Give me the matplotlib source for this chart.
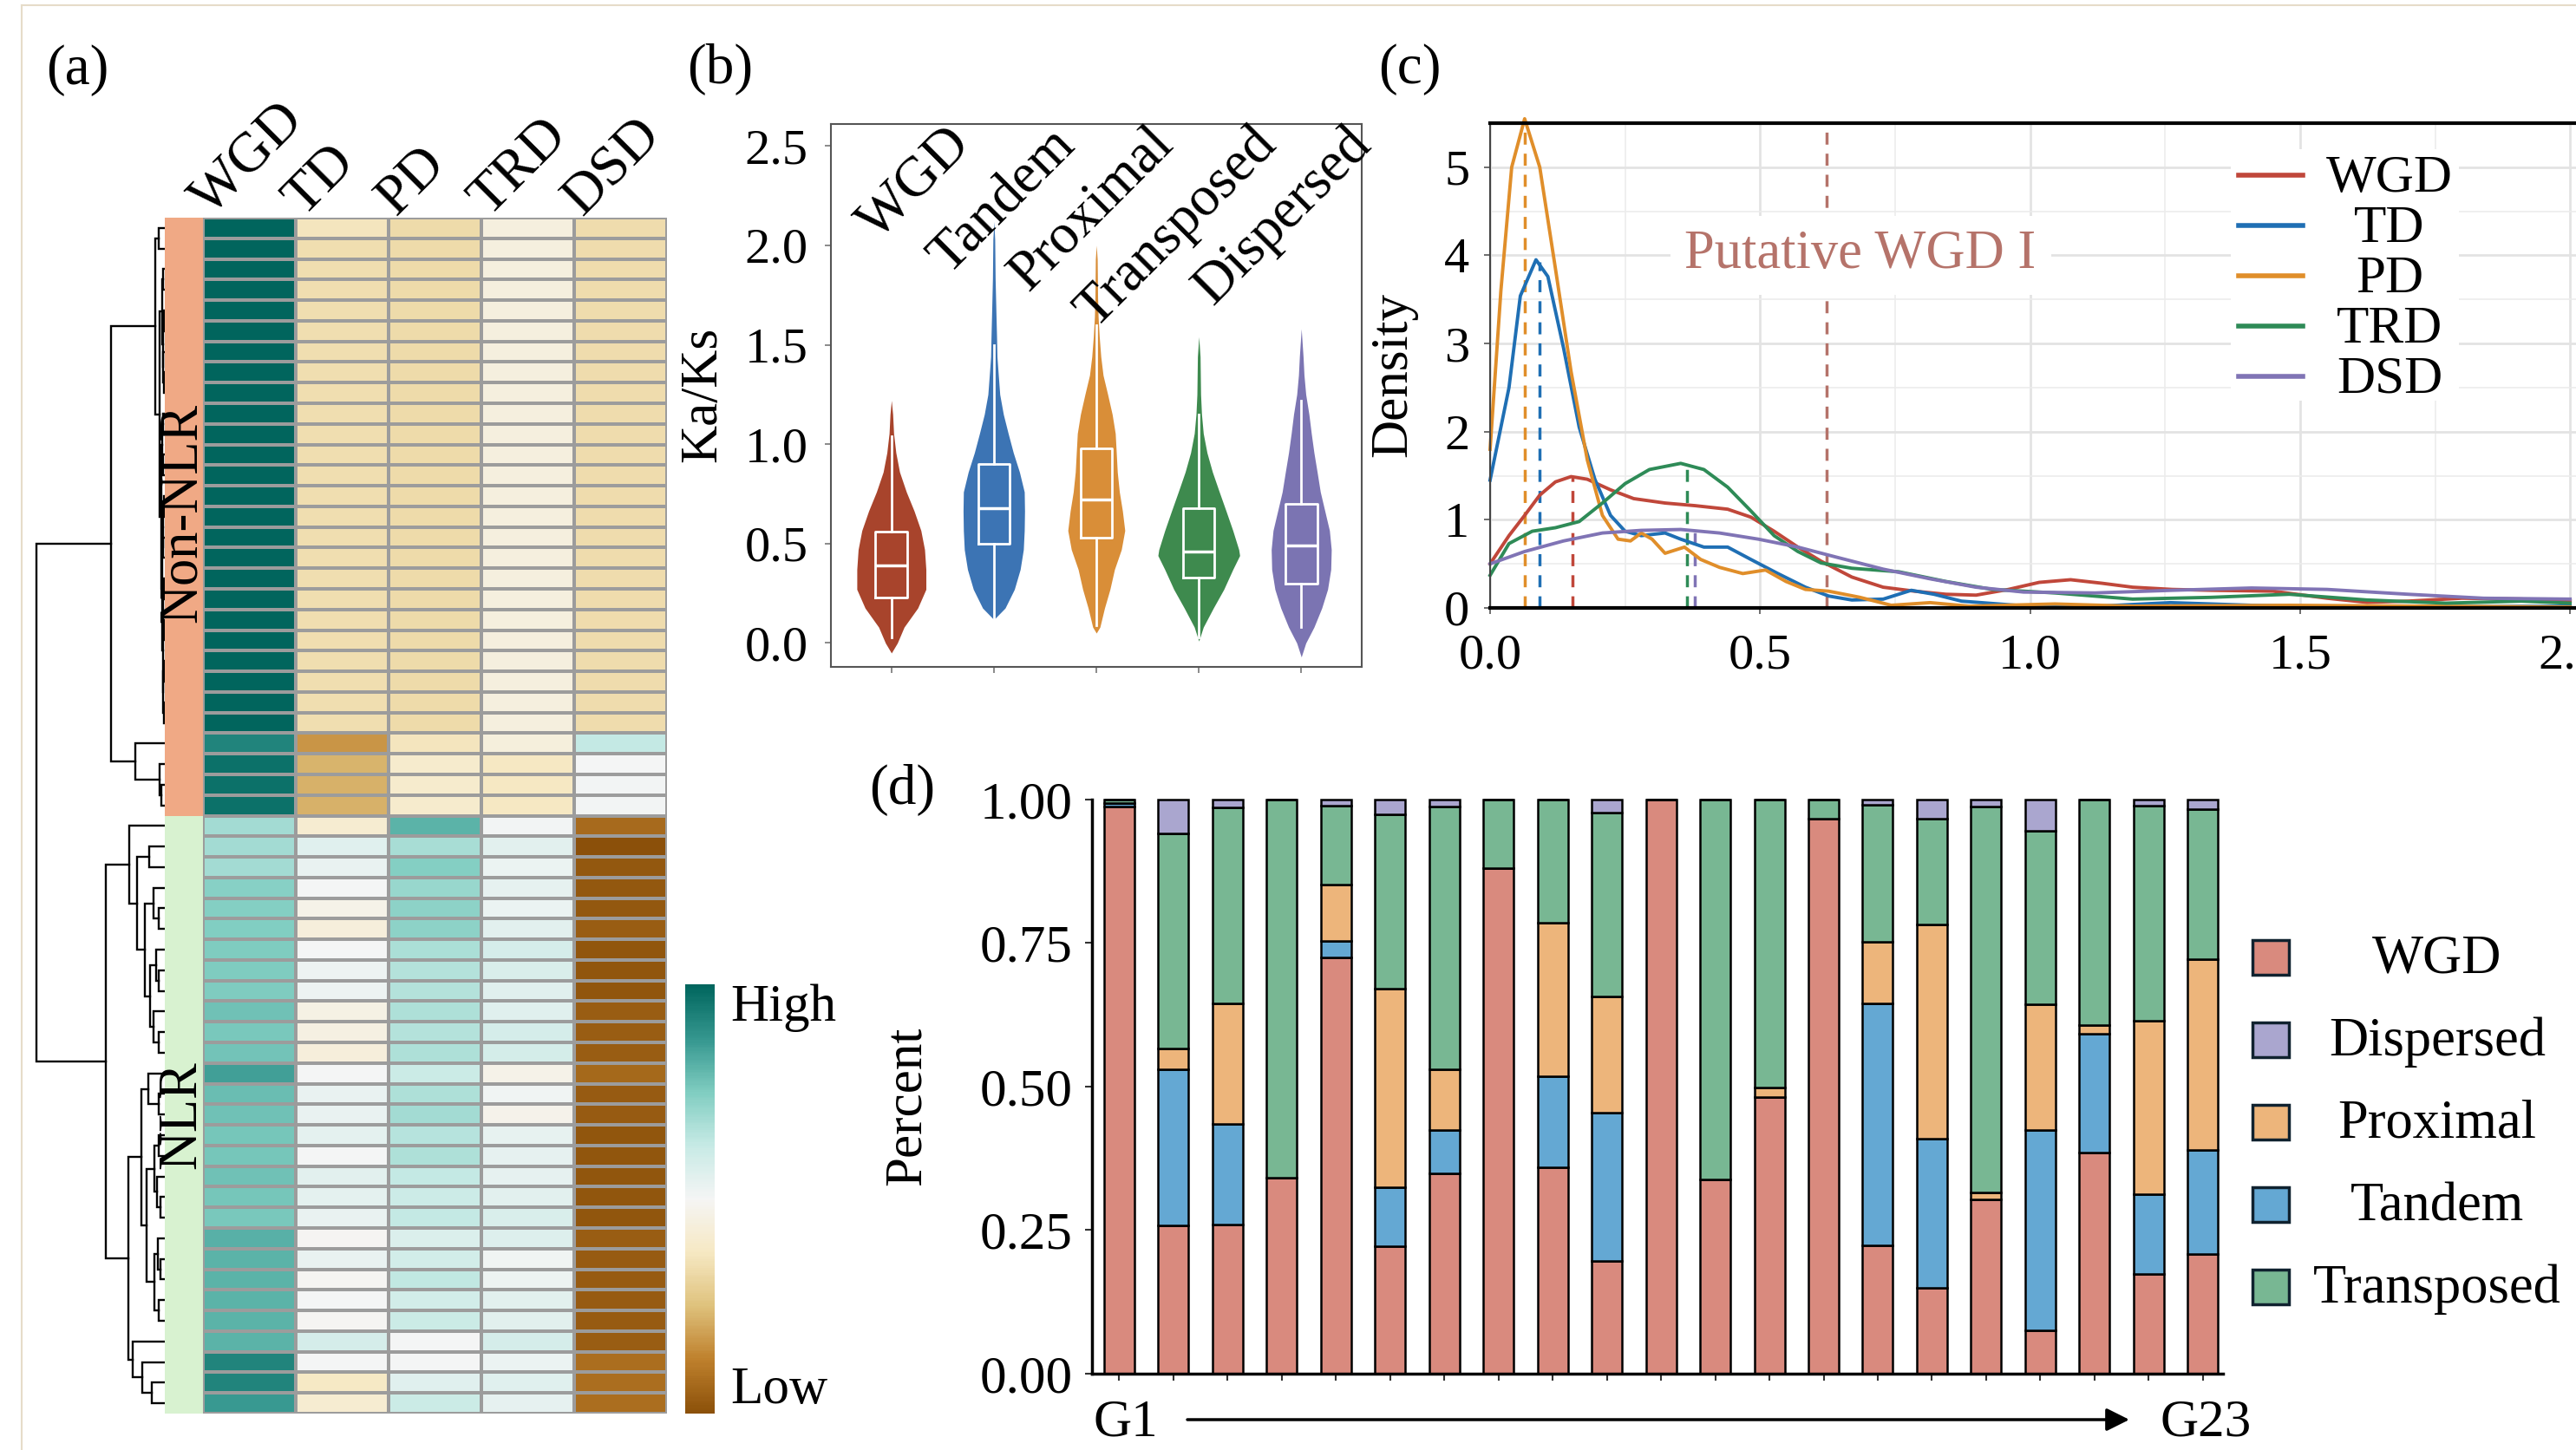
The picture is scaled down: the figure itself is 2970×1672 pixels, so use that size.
import numpy as np
import matplotlib.pyplot as plt
from matplotlib.colors import LinearSegmentedColormap, ListedColormap, Normalize
from matplotlib.cm import ScalarMappable
from matplotlib.patches import Rectangle
from matplotlib.lines import Line2D

plt.rcParams['font.family'] = ['Liberation Serif', 'DejaVu Serif']
plt.rcParams['font.size'] = 44

W, H = 2970, 1672
fig = plt.figure(figsize=(W / 100, H / 100), dpi=100)


def box(l, t, r, b):
    # axes placed by pixel edges (left, top, right, bottom)
    return fig.add_axes([l / W, 1 - b / H, (r - l) / W, (b - t) / H])


def fx(x):
    return x / W


def fy(y):
    return 1 - y / H


# ---------------- (a) heatmap data, scaled -1 (low) .. 1 (high) ----------------
heat_cols = ['WGD', 'TD', 'PD', 'TRD', 'DSD']
group_names = ['Non-NLR', 'NLR']
group_colors = ['#f0a985', '#d8f2d0']

non_wgd = [1.0, 1.0, 1.0, 1.0, 1.0, 1.0, 1.0, 1.0, 1.0, 1.0, 1.0, 1.0, 1.0, 1.0, 1.0,
           1.0, 1.0, 1.0, 1.0, 1.0, 1.0, 1.0, 1.0, 1.0, 1.0, 0.84, 0.94, 0.94, 0.94]
non_td = [-0.27, -0.32, -0.32, -0.32, -0.32, -0.32, -0.32, -0.32, -0.32, -0.32, -0.32, -0.32,
          -0.32, -0.32, -0.32, -0.32, -0.32, -0.32, -0.32, -0.32, -0.32, -0.32, -0.32, -0.32,
          -0.32, -0.67, -0.55, -0.56, -0.56]
non_pd = [-0.34, -0.34, -0.34, -0.34, -0.34, -0.34, -0.34, -0.34, -0.34, -0.34, -0.34, -0.34,
          -0.34, -0.34, -0.34, -0.34, -0.34, -0.34, -0.34, -0.34, -0.34, -0.34, -0.34, -0.34,
          -0.34, -0.27, -0.2, -0.2, -0.2]
non_trd = [-0.11, -0.11, -0.11, -0.11, -0.11, -0.11, -0.11, -0.11, -0.11, -0.11, -0.11, -0.11,
           -0.11, -0.11, -0.11, -0.11, -0.11, -0.11, -0.11, -0.11, -0.11, -0.11, -0.11, -0.11,
           -0.11, -0.12, -0.25, -0.25, -0.25]
non_dsd = [-0.325, -0.325, -0.325, -0.325, -0.325, -0.325, -0.325, -0.325, -0.325, -0.325,
           -0.325, -0.325, -0.325, -0.325, -0.325, -0.325, -0.325, -0.325, -0.325, -0.325,
           -0.325, -0.325, -0.325, -0.325, -0.325, 0.25, 0.0, 0.01, 0.01]

nlr_wgd = [0.38, 0.38, 0.38, 0.47, 0.48, 0.49, 0.50, 0.50, 0.50, 0.55, 0.52, 0.54, 0.71, 0.57,
           0.55, 0.53, 0.53, 0.55, 0.53, 0.52, 0.63, 0.62, 0.62, 0.62, 0.62, 0.62, 0.84, 0.84, 0.73]
nlr_td = [-0.185, 0.11, 0.06, 0.0, -0.065, -0.13, 0.0, 0.04, 0.04, -0.085, -0.09, -0.13, 0.0,
          0.065, 0.06, 0.09, 0.0, 0.10, 0.09, 0.065, -0.01, 0.055, -0.01, 0.0, -0.01, 0.17, 0.0,
          -0.235, -0.175]
nlr_pd = [0.62, 0.355, 0.48, 0.42, 0.45, 0.45, 0.35, 0.32, 0.32, 0.34, 0.32, 0.33, 0.23, 0.34,
          0.37, 0.31, 0.34, 0.25, 0.22, 0.26, 0.14, 0.19, 0.27, 0.19, 0.23, 0.0, 0.0, 0.11, 0.23]
nlr_trd = [0.01, 0.10, 0.05, 0.08, 0.05, 0.10, 0.17, 0.155, 0.11, 0.11, 0.17, 0.18, -0.07, 0.02,
           -0.05, 0.075, 0.085, 0.08, 0.105, 0.15, 0.13, 0.03, 0.04, 0.105, 0.105, 0.17, 0.05,
           0.11, 0.08]
nlr_dsd = [-0.86, -1.0, -0.955, -0.955, -0.955, -0.93, -0.965, -0.965, -0.965, -0.93, -0.93,
           -0.93, -0.87, -0.945, -0.945, -0.975, -0.975, -0.975, -0.975, -0.975, -0.93, -0.945,
           -0.945, -0.945, -0.945, -0.93, -0.84, -0.84, -0.84]

# dendrogram: (height, left, right), leaves are row numbers (0-57, top to bottom)
non_tree = (63,
            (11, (7, 0, 1),
             (6, (3, (2, 2, 3), (2.5, (1.5, 4, 5), (2, 6, (1, 7, 8)))),
              (4, (3, (2, 9, 10), (2, 11, 12)),
               (3, (2.5, (1.5, 13, 14), (2, 15, 16)),
                (2.5, (2, (1, 17, 18), (1.5, 19, 20)), (2, (1.5, 21, 22), (1, 23, 24))))))),
            (34, 25, (6, 26, (4, 27, 28))))
nlr_tree = (69,
            (42, 29, (32, (18, 30, 31),
                      (23, (13, 32, (7, 33, 34)),
                       (17, (10, 35, (7, 36, 37)), (13, 38, (7, 39, 40)))))),
            (43, (27, (19, 41, (7, 42, 43)),
                  (21, (12, (7, 44, 45), (9, 46, (5, 47, 48))),
                   (12, (8, 49, (5, 50, 51)), (7, 52, 53)))),
             (38, 54, (26, 55, (15, 56, 57)))))
tree = (150, non_tree, nlr_tree)

# ---------------- (b) violins ----------------
vio_names = ['WGD', 'Tandem', 'Proximal', 'Transposed', 'Dispersed']
vio_colors = ['#a8442c', '#3c74b4', '#d98e38', '#3e8a4e', '#7b74b2']
vio_y = [
    [-0.05, 0.0, 0.08, 0.176, 0.27, 0.37, 0.47, 0.566, 0.664, 0.76, 0.86, 0.957, 1.054, 1.15, 1.22],
    [0.118, 0.176, 0.27, 0.37, 0.47, 0.566, 0.664, 0.76, 0.86, 0.957, 1.054, 1.15, 1.25, 1.347,
     1.44, 1.54, 1.64, 1.835, 2.03, 2.12],
    [0.05, 0.08, 0.176, 0.27, 0.37, 0.47, 0.566, 0.664, 0.76, 0.86, 0.957, 1.054, 1.15, 1.25,
     1.347, 1.44, 1.54, 1.64, 1.737, 1.93, 2.0],
    [0.01, 0.08, 0.176, 0.27, 0.37, 0.44, 0.47, 0.566, 0.664, 0.76, 0.86, 0.957, 1.054, 1.15,
     1.25, 1.44, 1.54],
    [-0.07, 0.0, 0.08, 0.176, 0.27, 0.37, 0.47, 0.566, 0.664, 0.76, 0.86, 0.957, 1.054, 1.15,
     1.25, 1.347, 1.44, 1.58],
]
vio_w = [
    [0, 0.058, 0.124, 0.257, 0.337, 0.337, 0.324, 0.288, 0.222, 0.146, 0.08, 0.044, 0.022, 0.013, 0],
    [0, 0.11, 0.2, 0.257, 0.288, 0.297, 0.30, 0.297, 0.25, 0.19, 0.14, 0.093, 0.058, 0.044,
     0.031, 0.027, 0.022, 0.013, 0.009, 0],
    [0, 0.035, 0.08, 0.133, 0.177, 0.244, 0.278, 0.255, 0.225, 0.205, 0.195, 0.185, 0.155, 0.111,
     0.066, 0.044, 0.029, 0.018, 0.013, 0.009, 0],
    [0, 0.044, 0.142, 0.244, 0.332, 0.399, 0.39, 0.332, 0.266, 0.2, 0.133, 0.08, 0.044, 0.027,
     0.018, 0.013, 0],
    [0, 0.044, 0.124, 0.2, 0.257, 0.288, 0.293, 0.275, 0.23, 0.186, 0.155, 0.124, 0.098, 0.075,
     0.044, 0.027, 0.018, 0],
]
box_lo = [0.03, 0.12, 0.09, 0.03, 0.08]
box_q1 = [0.23, 0.50, 0.53, 0.33, 0.30]
box_med = [0.39, 0.68, 0.72, 0.46, 0.49]
box_q3 = [0.56, 0.90, 0.98, 0.68, 0.70]
box_hi = [1.04, 1.50, 1.60, 1.15, 1.22]

# ---------------- (c) Ks densities ----------------
dens_names = ['WGD', 'TD', 'PD', 'TRD', 'DSD']
dens_colors = ['#c0473a', '#1f6fb4', '#e08e2a', '#2e8b57', '#8074b5']
wgd_x = [0, 0.035, 0.064, 0.092, 0.121, 0.15, 0.18, 0.223, 0.266, 0.324, 0.38, 0.44, 0.483, 0.526,
         0.57, 0.613, 0.67, 0.728, 0.786, 0.844, 0.9, 0.96, 1.017, 1.075, 1.133, 1.19, 1.263,
         1.335, 1.45, 1.55, 1.624, 1.7, 1.8, 1.91, 2.0]
wgd_d = [0.5, 0.82, 1.05, 1.28, 1.43, 1.49, 1.46, 1.34, 1.24, 1.19, 1.16, 1.12, 1.03, 0.87, 0.69,
         0.53, 0.35, 0.235, 0.19, 0.155, 0.145, 0.21, 0.29, 0.32, 0.28, 0.235, 0.21, 0.2, 0.19,
         0.11, 0.063, 0.077, 0.11, 0.1, 0.08]
td_x = [0, 0.035, 0.056, 0.085, 0.107, 0.136, 0.165, 0.194, 0.223, 0.25, 0.28, 0.324, 0.353,
        0.396, 0.44, 0.483, 0.533, 0.584, 0.627, 0.67, 0.728, 0.78, 0.822, 0.873, 0.974, 1.12,
        1.26, 1.41, 1.62, 2.0]
td_d = [1.45, 2.5, 3.54, 3.95, 3.76, 2.95, 2.05, 1.46, 1.05, 0.87, 0.82, 0.85, 0.78, 0.69, 0.69,
        0.55, 0.39, 0.235, 0.135, 0.09, 0.10, 0.20, 0.155, 0.077, 0.03, 0.018, 0.06, 0.03, 0.01,
        0.02]
pd_x = [0, 0.02, 0.04, 0.064, 0.092, 0.121, 0.15, 0.18, 0.208, 0.237, 0.26, 0.28, 0.30, 0.324,
        0.36, 0.39, 0.425, 0.468, 0.51, 0.548, 0.584, 0.627, 0.685, 0.743, 0.815, 0.887, 1.046,
        1.19, 1.48, 2.0]
pd_d = [1.8, 3.6, 5.0, 5.55, 5.0, 3.85, 2.68, 1.68, 1.05, 0.78, 0.76, 0.85, 0.78, 0.62, 0.69,
        0.55, 0.46, 0.39, 0.43, 0.30, 0.21, 0.19, 0.12, 0.03, 0.06, 0.02, 0.045, 0.02, 0.03, 0.01]
trd_x = [0, 0.035, 0.078, 0.121, 0.165, 0.208, 0.25, 0.295, 0.353, 0.396, 0.44, 0.483, 0.526,
         0.57, 0.613, 0.67, 0.757, 0.844, 0.93, 1.046, 1.19, 1.335, 1.48, 1.624, 1.77, 1.91, 2.0]
trd_d = [0.37, 0.73, 0.87, 0.91, 0.98, 1.19, 1.41, 1.57, 1.64, 1.57, 1.37, 1.1, 0.82, 0.64, 0.51,
         0.45, 0.41, 0.3, 0.21, 0.17, 0.1, 0.12, 0.155, 0.09, 0.054, 0.077, 0.054]
dsd_x = [0, 0.064, 0.136, 0.208, 0.28, 0.353, 0.425, 0.497, 0.57, 0.642, 0.728, 0.815, 0.9, 0.988,
         1.12, 1.263, 1.41, 1.55, 1.7, 1.84, 2.0]
dsd_d = [0.5, 0.64, 0.76, 0.85, 0.88, 0.89, 0.85, 0.78, 0.69, 0.575, 0.44, 0.33, 0.235, 0.18,
         0.17, 0.2, 0.226, 0.21, 0.155, 0.11, 0.1]
peak_x = [0.153, 0.092, 0.064, 0.364, 0.379]
peak_y = [1.49, 3.93, 5.55, 1.63, 0.88]
wgd1_x = 0.624

# ---------------- (d) stacked proportions ----------------
bar_wgd = [0.988, 0.258, 0.260, 0.341, 0.725, 0.222, 0.349, 0.881, 0.359, 0.197, 1.000, 0.338,
           0.482, 0.967, 0.224, 0.149, 0.304, 0.075, 0.385, 0.173, 0.209]
bar_tandem = [0.006, 0.272, 0.175, 0, 0.029, 0.103, 0.076, 0, 0.159, 0.257, 0, 0, 0, 0, 0.421,
              0.26, 0, 0.35, 0.207, 0.139, 0.18]
bar_proximal = [0, 0.036, 0.21, 0, 0.098, 0.345, 0.105, 0, 0.268, 0.203, 0, 0, 0.016, 0, 0.107,
                0.373, 0.012, 0.219, 0.015, 0.303, 0.333]
bar_transposed = [0.006, 0.375, 0.341, 0.659, 0.138, 0.304, 0.458, 0.119, 0.214, 0.321, 0, 0.662,
                  0.502, 0.033, 0.239, 0.185, 0.672, 0.302, 0.393, 0.375, 0.261]
bar_dispersed = [0, 0.059, 0.014, 0, 0.01, 0.026, 0.012, 0, 0, 0.022, 0, 0, 0, 0, 0.009, 0.033,
                 0.012, 0.054, 0, 0.01, 0.017]
bar_colors = {'WGD': '#d98a7e', 'Tandem': '#64a8d3', 'Proximal': '#edb57b',
              'Transposed': '#78b793', 'Dispersed': '#aaa6cf'}
legend_order = ['WGD', 'Dispersed', 'Proximal', 'Tandem', 'Transposed']

# ======================= panel (a) =======================
heat = np.vstack([np.column_stack([non_wgd, non_td, non_pd, non_trd, non_dsd]),
                  np.column_stack([nlr_wgd, nlr_td, nlr_pd, nlr_trd, nlr_dsd])])
nrow = heat.shape[0]
heat_cmap = LinearSegmentedColormap.from_list('brbg', plt.cm.BrBG(np.linspace(0.1, 0.9, 256)))

ax_den = box(40, 251, 190, 1630)
ax_str = box(190, 251, 234, 1630)
ax_hm = box(234, 251, 769, 1630)


def draw_tree(ax, node):
    if isinstance(node, int):
        return node + 0.5, 0
    h, left, right = node
    yl, hl = draw_tree(ax, left)
    yr, hr = draw_tree(ax, right)
    ax.plot([hl, h, h, hr], [yl, yl, yr, yr], color='black', lw=1.7, solid_joinstyle='miter')
    return (yl + yr) / 2, h


draw_tree(ax_den, tree)
ax_den.set_xlim(152, 0)
ax_den.set_ylim(nrow, 0)
ax_den.axis('off')

grp = np.array([0] * len(non_wgd) + [1] * len(nlr_wgd))[:, None]
ax_str.pcolormesh(grp, cmap=ListedColormap(group_colors), vmin=0, vmax=1)
ax_str.set_ylim(nrow, 0)
ax_str.axis('off')
ax_str.text(0.47, 14.3, group_names[0], rotation=90, ha='center', va='center', fontsize=45)
ax_str.text(0.47, 43.5, group_names[1], rotation=90, ha='center', va='center', fontsize=45)

ax_hm.pcolormesh(heat, cmap=heat_cmap, vmin=-1, vmax=1, edgecolors='#9c9c9c', linewidth=1.5)
ax_hm.set_xlim(0, 5)
ax_hm.set_ylim(nrow, 0)
ax_hm.axis('off')
for j, name in enumerate(heat_cols):
    ax_hm.text(j + 0.5 - 0.42, -0.05, name, rotation=45, rotation_mode='anchor',
               ha='left', va='baseline', fontsize=47, clip_on=False)

ax_cb = box(790, 1135, 824, 1630)
cb = fig.colorbar(ScalarMappable(Normalize(-1, 1), heat_cmap), cax=ax_cb)
cb.set_ticks([])
cb.outline.set_visible(False)
fig.text(fx(842), fy(1162), 'High', ha='left', va='center', fontsize=44)
fig.text(fx(842), fy(1603), 'Low', ha='left', va='center', fontsize=44)

# ======================= panel (b) =======================
ax_b = box(958, 143, 1570, 769)
pos = np.arange(1, len(vio_names) + 1)
for i in range(len(vio_names)):
    yy = np.array(vio_y[i])
    ww = np.array(vio_w[i])
    ax_b.fill_betweenx(yy, pos[i] - ww, pos[i] + ww, color=vio_colors[i], lw=0)
stats = [dict(whislo=box_lo[i], q1=box_q1[i], med=box_med[i], q3=box_q3[i], whishi=box_hi[i],
              fliers=[]) for i in range(len(vio_names))]
ax_b.bxp(stats, positions=pos, widths=0.31, showfliers=False, showcaps=False,
         boxprops=dict(color='white', lw=2), whiskerprops=dict(color='white', lw=2),
         medianprops=dict(color='white', lw=2.5), manage_ticks=False)
ax_b.set_xlim(0.41, 5.59)
ax_b.set_ylim(-0.12, 2.61)
ax_b.set_yticks([0, 0.5, 1.0, 1.5, 2.0, 2.5])
ax_b.set_yticklabels(['%.1f' % v for v in [0, 0.5, 1.0, 1.5, 2.0, 2.5]])
ax_b.set_xticks(pos)
ax_b.set_xticklabels([])
ax_b.tick_params(axis='both', length=5, width=1.2, color='#777777', labelsize=42, pad=14)
for s in ax_b.spines.values():
    s.set_color('#555555')
    s.set_linewidth(1.5)
label_dx = [0.52, 0.54, 0.50, 0.50, 0.42]
for i, name in enumerate(vio_names):
    ax_b.text(pos[i] + label_dx[i], 2.64, name, rotation=45, rotation_mode='anchor', ha='right',
              va='top', fontsize=47)
fig.text(fx(811), fy(455), 'Ka/Ks', rotation=90, ha='center', va='center', fontsize=44)

# ======================= panel (c) =======================
ax_c = box(1718, 142, 2970, 701)
ax_c.set_xlim(0, 2.011)
ax_c.set_ylim(0, 5.5)
ax_c.set_xticks([0, 0.5, 1.0, 1.5, 2.0])
ax_c.set_xticklabels(['%.1f' % v for v in [0, 0.5, 1.0, 1.5, 2.0]])
ax_c.set_yticks([0, 1, 2, 3, 4, 5])
ax_c.set_xticks([0.25, 0.75, 1.25, 1.75], minor=True)
ax_c.set_yticks([0.5, 1.5, 2.5, 3.5, 4.5], minor=True)
ax_c.grid(True, which='major', color='#e3e3e3', lw=2.0)
ax_c.grid(True, which='minor', color='#ececec', lw=1.2)
ax_c.set_axisbelow(True)
ax_c.tick_params(axis='both', which='major', length=5, width=1.2, color='#555555',
                 labelsize=42, pad=12)
ax_c.tick_params(axis='x', which='major', pad=16)
ax_c.tick_params(axis='both', which='minor', length=0)
ax_c.spines['right'].set_visible(False)
ax_c.spines['top'].set_linewidth(3)
ax_c.spines['bottom'].set_linewidth(3)
ax_c.spines['left'].set_color('#444444')
ax_c.spines['left'].set_linewidth(1.5)

curves = [(wgd_x, wgd_d), (td_x, td_d), (pd_x, pd_d), (trd_x, trd_d), (dsd_x, dsd_d)]
for (xs, ds), c in zip(curves, dens_colors):
    ax_c.plot(xs, ds, color=c, lw=2.8, clip_on=False, zorder=2.5)
for px_, py_, c in zip(peak_x, peak_y, dens_colors):
    ax_c.vlines(px_, 0, py_, colors=c, linestyles=(0, (4, 3)), lw=2.5, zorder=2.4)
ax_c.vlines(wgd1_x, 0, 5.5, colors='#b5736a', linestyles=(0, (4, 3)), lw=2.5, zorder=2.4)
ax_c.text(0.686, 4.0, 'Putative WGD I', color='#b5736a', ha='center', va='center', fontsize=45,
          zorder=4, bbox=dict(facecolor='white', edgecolor='none', pad=12))
fig.text(fx(1606), fy(432), 'Density', rotation=90, ha='center', va='center', fontsize=44)

fig.add_artist(Rectangle((fx(2572), fy(462)), (2835 - 2572) / W, (462 - 172) / H,
                         transform=fig.transFigure, facecolor='white', edgecolor='none',
                         zorder=1))
for i, (name, c) in enumerate(zip(dens_names, dens_colors)):
    yy = 202 + i * 58
    fig.add_artist(Line2D([fx(2581), fx(2655)], [fy(yy), fy(yy)], color=c, lw=4,
                          transform=fig.transFigure, zorder=2))
    fig.text(fx(2755), fy(yy + 4), name, ha='center', va='center', fontsize=44, zorder=3)

# ======================= panel (d) =======================
ax_d = box(1259, 918, 2563, 1584)
xb = np.arange(1, len(bar_wgd) + 1)
series = [('WGD', bar_wgd), ('Tandem', bar_tandem), ('Proximal', bar_proximal),
          ('Transposed', bar_transposed), ('Dispersed', bar_dispersed)]
bottom = np.zeros(len(xb))
for name, vals in series:
    vals = np.array(vals)
    ax_d.bar(xb, vals, 0.56, bottom=bottom, color=bar_colors[name], edgecolor='black', lw=1.8,
             zorder=2)
    bottom = bottom + vals
ax_d.set_xlim(0.5, 21.37)
ax_d.set_ylim(0, 1.006)
ax_d.set_xticks(xb)
ax_d.set_xticklabels([])
ax_d.set_yticks([0, 0.25, 0.5, 0.75, 1.0])
ax_d.set_yticklabels(['%.2f' % v for v in [0, 0.25, 0.5, 0.75, 1.0]])
ax_d.tick_params(axis='both', length=6, width=1.5, color='#333333', labelsize=44, pad=10)
ax_d.spines['top'].set_visible(False)
ax_d.spines['right'].set_visible(False)
ax_d.spines['left'].set_linewidth(2.5)
ax_d.spines['bottom'].set_linewidth(2.5)
ax_d.spines['left'].set_bounds(0, 1.0)
fig.text(fx(1046), fy(1275), 'Percent', rotation=90, ha='center', va='center', fontsize=44)

fig.text(fx(1298), fy(1641), 'G1', ha='center', va='center', fontsize=44)
fig.text(fx(2543), fy(1641), 'G23', ha='center', va='center', fontsize=44)
ax_d.annotate('', xy=(fx(2455), fy(1637)), xytext=(fx(1369), fy(1637)),
              xycoords='figure fraction', textcoords='figure fraction', annotation_clip=False,
              arrowprops=dict(arrowstyle='-|>', color='black', lw=2.5, mutation_scale=40,
                              shrinkA=0, shrinkB=0))

for i, name in enumerate(legend_order):
    yy = 1104 + i * 95
    fig.add_artist(Rectangle((fx(2597), fy(yy + 20)), 42 / W, 40 / H, transform=fig.transFigure,
                             facecolor=bar_colors[name], edgecolor='#10222f', lw=2.5))
    fig.text(fx(2810), fy(yy + 3), name, ha='center', va='center', fontsize=45)

# panel letters
for lab, (x, y) in zip(['(a)', '(b)', '(c)', '(d)'],
                       [(89, 81), (830, 80), (1625, 80), (1040, 911)]):
    fig.text(fx(x), fy(y), lab, ha='center', va='center', fontsize=47)

# thin page frame
fig.add_artist(Line2D([fx(25), fx(W)], [fy(6), fy(6)], color='#e6dcc9', lw=1.5,
                      transform=fig.transFigure))
fig.add_artist(Line2D([fx(25), fx(25)], [fy(6), fy(H)], color='#e6dcc9', lw=1.5,
                      transform=fig.transFigure))

fig.savefig('out.png', dpi=100)
